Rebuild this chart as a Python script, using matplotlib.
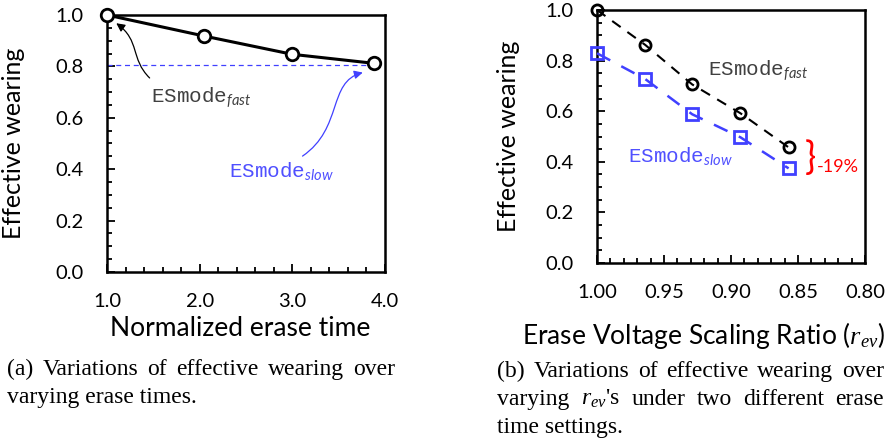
import matplotlib
matplotlib.use('Agg')
import matplotlib.pyplot as plt
from matplotlib.ticker import MultipleLocator, FormatStrFormatter
from matplotlib.patches import FancyArrowPatch
from matplotlib.path import Path

# (a) effective wearing vs. normalized erase time
erase_time = [1.0, 2.05, 3.0, 3.88]
wear_time = [1.0, 0.918, 0.847, 0.812]
slow_level = 0.806

# (b) effective wearing vs. erase voltage scaling ratio
r_ev = [1.0, 0.964, 0.929, 0.893, 0.857]
wear_fast = [1.0, 0.862, 0.706, 0.592, 0.457]
wear_slow = [0.829, 0.727, 0.588, 0.497, 0.374]

cap_a = [["(a)", "Variations", "of", "effective", "wearing", "over"],
         ["varying erase times."]]
cap_b = [["(b)", "Variations", "of", "effective", "wearing", "over"],
         ["varying", "$r_{ev}$'s", "under", "two", "different", "erase"],
         ["time settings."]]

plt.rcParams['font.family'] = 'Lato'
plt.rcParams['mathtext.fontset'] = 'custom'
plt.rcParams['mathtext.it'] = 'Liberation Serif:italic'
plt.rcParams['mathtext.rm'] = 'Liberation Serif'
plt.rcParams['mathtext.sf'] = 'Lato:italic'
plt.rcParams['mathtext.tt'] = 'Liberation Mono'

BLUE = '#4040FF'
W, H = 888, 441

fig = plt.figure(figsize=(W / 100, H / 100), dpi=100)
ax1 = fig.add_axes([107 / W, 1 - 272 / H, 278 / W, 257 / H])
ax2 = fig.add_axes([597 / W, 1 - 263 / H, 268 / W, 253 / H])


def style_axis(ax):
    for s in ax.spines.values():
        s.set_linewidth(1.8)
    ax.tick_params(which='both', direction='in', width=1.3, labelsize=14.5)
    ax.tick_params(which='major', length=6)
    ax.tick_params(which='minor', length=3.5)
    ax.tick_params(axis='y', pad=17)
    ax.tick_params(axis='x', pad=15)
    ax.set_ylim(0, 1.0)
    ax.yaxis.set_major_locator(MultipleLocator(0.2))
    ax.yaxis.set_minor_locator(MultipleLocator(0.05))
    ax.yaxis.set_major_formatter(FormatStrFormatter('%.1f'))
    ax.set_ylabel('Effective wearing', fontsize=18)


# ---- panel (a)
ax1.plot([erase_time[0], erase_time[-1]], [slow_level, slow_level],
         color=BLUE, lw=0.9, ls=(0, (4, 3)), zorder=2)
ax1.plot(erase_time, wear_time, color='black', lw=2.2, marker='o', ms=9,
         mfc='white', mec='black', mew=2, clip_on=False, zorder=5)
style_axis(ax1)
ax1.set_xlim(1.0, 4.0)
ax1.xaxis.set_major_locator(MultipleLocator(1.0))
ax1.xaxis.set_minor_locator(MultipleLocator(0.2))
ax1.xaxis.set_major_formatter(FormatStrFormatter('%.1f'))
ax1.set_xlabel('Normalized erase time', fontsize=19)
ax1.xaxis.set_label_coords(0.48, -0.172)
ax1.yaxis.set_label_coords(-0.295, 0.5)

ax1.text(1.48, 0.658, r'$\mathtt{ESmode}_{\mathsf{fast}}$', fontsize=15,
         color='#404040', va='baseline')
ax1.text(2.32, 0.37, r'$\mathtt{ESmode}_{\mathsf{slow}}$', fontsize=15,
         color='#5050FF', va='baseline')

p_fast = Path([(1.46, 0.755), (1.25, 0.83), (1.36, 0.90), (1.10, 0.968)],
              [Path.MOVETO, Path.CURVE4, Path.CURVE4, Path.CURVE4])
ax1.add_patch(FancyArrowPatch(path=p_fast, arrowstyle='-|>,head_length=5,head_width=2.5',
                              color='black', lw=0.9, transform=ax1.transData))
p_slow = Path([(3.11, 0.451), (3.55, 0.56), (3.38, 0.74), (3.76, 0.776)],
              [Path.MOVETO, Path.CURVE4, Path.CURVE4, Path.CURVE4])
ax1.add_patch(FancyArrowPatch(path=p_slow, arrowstyle='-|>,head_length=5,head_width=2.5',
                              color=BLUE, lw=0.9, transform=ax1.transData))

# ---- panel (b)
ax2.plot(r_ev, wear_fast, color='black', lw=1.5, ls=(0, (5, 4)), marker='o',
         ms=8, mfc='none', mec='black', mew=2, clip_on=False, zorder=5)
ax2.plot(r_ev, wear_slow, color=BLUE, lw=1.8, ls=(0, (6, 5)), marker='s',
         ms=8.5, mfc='none', mec=BLUE, mew=2, clip_on=False, zorder=5)
style_axis(ax2)
ax2.set_xlim(1.0, 0.8)
ax2.xaxis.set_major_locator(MultipleLocator(0.05))
ax2.xaxis.set_minor_locator(MultipleLocator(0.01))
ax2.xaxis.set_major_formatter(FormatStrFormatter('%.2f'))
ax2.set_xlabel(r'Erase Voltage Scaling Ratio ($r_{ev}$)', fontsize=19)
ax2.xaxis.set_label_coords(0.396, -0.225)
ax2.yaxis.set_label_coords(-0.287, 0.5)

ax2.text(0.917, 0.74, r'$\mathtt{ESmode}_{\mathsf{fast}}$', fontsize=15,
         color='#404040', va='baseline')
ax2.text(0.977, 0.40, r'$\mathtt{ESmode}_{\mathsf{slow}}$', fontsize=15,
         color='#5050FF', va='baseline')
ax2.text(0.845, (wear_fast[-1] + wear_slow[-1]) / 2, '}', fontsize=27,
         color='red', ha='left', va='center')
ax2.text(0.836, 0.38, '-19%', fontsize=13, color='red', ha='left', va='center')


# ---- captions (justified like the paper)
renderer = fig.canvas.get_renderer()


def caption(lines, x0, x1, y0, step):
    for k, words in enumerate(lines):
        y = 1 - (y0 + k * step) / H
        kw = dict(fontsize=17, family='Liberation Serif', va='baseline')
        if len(words) == 1:
            fig.text(x0 / W, y, words[0], **kw)
            continue
        texts = [fig.text(0, y, w, **kw) for w in words]
        widths = [t.get_window_extent(renderer).width for t in texts]
        gap = (x1 - x0 - sum(widths)) / (len(words) - 1)
        x = x0
        for t, w in zip(texts, widths):
            t.set_x(x / W)
            x += w + gap


caption(cap_a, 7, 395, 375, 28)
caption(cap_b, 497, 884, 377, 28)

fig.savefig('out.png', dpi=100)
